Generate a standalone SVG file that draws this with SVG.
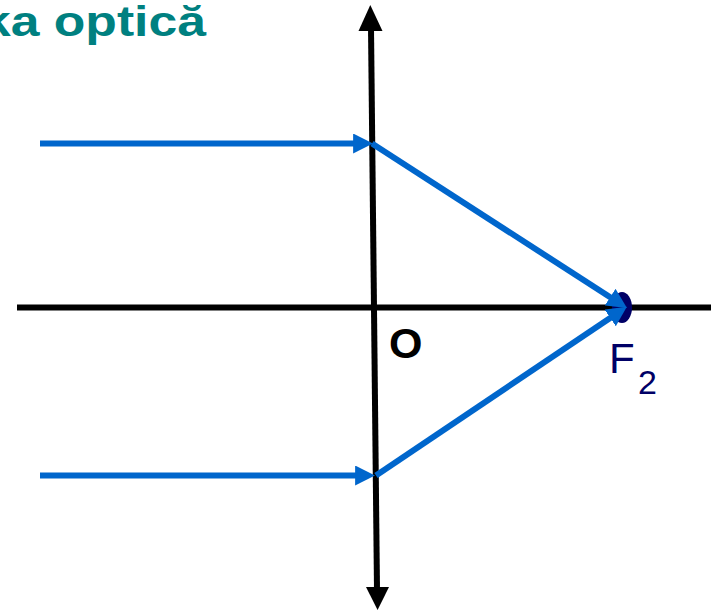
<svg xmlns="http://www.w3.org/2000/svg" width="715" height="613" viewBox="0 0 715 613">
<style>
.ray{stroke:#0066CC;stroke-width:6;fill:none}
.blk{stroke:#000;stroke-width:6;fill:none}
.title{font-family:"Liberation Sans",Arial,sans-serif;font-weight:bold;font-size:42px;fill:#008080}
.lbl{font-family:"Liberation Sans",Arial,sans-serif;fill:#000066}
</style>
<defs>
<marker id="ah" markerUnits="userSpaceOnUse" markerWidth="20" markerHeight="20" refX="8" refY="9" orient="auto" viewBox="0 0 18 18">
<path d="M0,0 L18,9 L0,18 z" fill="#0066CC"/>
</marker>
</defs>
<rect width="715" height="613" fill="#fff"/>
<g id="title">
<text class="title" transform="translate(-18,36) scale(1.23,1)">ka optică</text>
</g>
<g id="axis">
<line class="blk" x1="17" y1="307.5" x2="711" y2="307.5"/>
</g>
<g id="lens">
<line class="blk" x1="371" y1="28" x2="377" y2="590"/>
<polygon points="370.3,5 382.5,31 358.5,31" fill="#000"/>
<polygon points="377.6,610 366,587 389,587" fill="#000"/>
</g>
<g id="focus">
<ellipse cx="622" cy="307.5" rx="10" ry="15.5" fill="#000066"/>
</g>
<g id="connectors">
<line class="ray" x1="40" y1="143.5" x2="362" y2="143.5" marker-end="url(#ah)"/>
<line class="ray" x1="372" y1="143.5" x2="617.6" y2="302" marker-end="url(#ah)"/>
<line class="ray" x1="40" y1="475.5" x2="364" y2="475.5" marker-end="url(#ah)"/>
<line class="ray" x1="376" y1="475.5" x2="617.6" y2="313" marker-end="url(#ah)"/>
</g>
<g id="label-O">
<text x="389" y="358" font-family="'Liberation Sans',Arial,sans-serif" font-weight="bold" font-size="43" fill="#000">O</text>
</g>
<g id="label-F2">
<text class="lbl" x="609" y="373" font-size="42">F</text>
<text class="lbl" x="638" y="394" font-size="34">2</text>
</g>
</svg>
